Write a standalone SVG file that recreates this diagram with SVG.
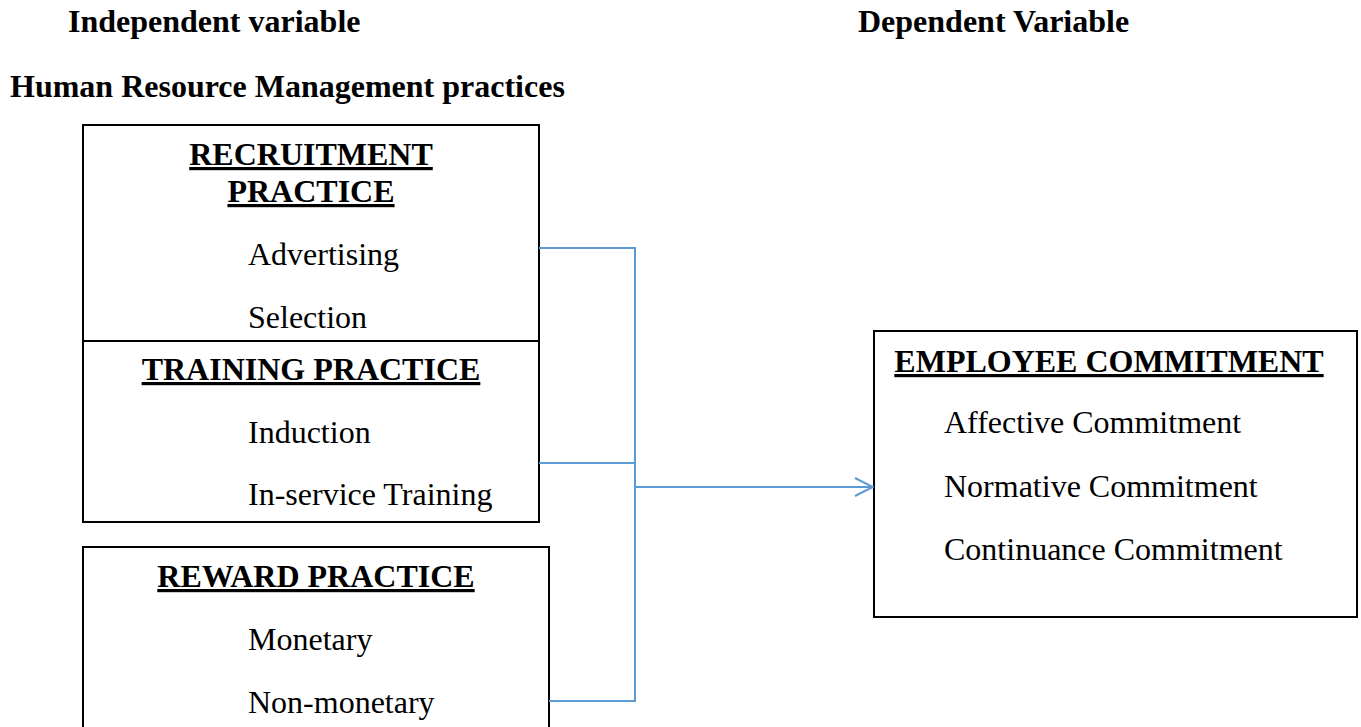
<svg xmlns="http://www.w3.org/2000/svg" width="1361" height="727" viewBox="0 0 1361 727">
  <defs>
    <style>
      .hdr { font-family: "Liberation Serif", "Times New Roman", serif; font-weight: bold; font-size: 32px; fill: #000; }
      .ttl { font-family: "Liberation Serif", "Times New Roman", serif; font-weight: bold; font-size: 32px; fill: #000; text-decoration: underline; text-anchor: middle; }
      .itm { font-family: "Liberation Serif", "Times New Roman", serif; font-size: 32px; fill: #000; }
      .box { fill: #fff; stroke: #000; stroke-width: 2; }
      .con { fill: none; stroke: #5B9BD5; stroke-width: 2; }
    </style>
    <marker id="open-arrow" viewBox="0 0 20 20" refX="19" refY="10" markerWidth="20" markerHeight="20" markerUnits="userSpaceOnUse" orient="auto">
      <path d="M1,1 L19,10 L1,19" fill="none" stroke="#5B9BD5" stroke-width="2"/>
    </marker>
  </defs>

  <rect width="1361" height="727" fill="#fff"/>

  <!-- column headings -->
  <g id="headings">
    <text class="hdr" x="68" y="32">Independent variable</text>
    <text class="hdr" x="858" y="32">Dependent Variable</text>
    <text class="hdr" x="10" y="97">Human Resource Management practices</text>
  </g>

  <!-- recruitment + training share one framed block -->
  <g id="recruitment">
    <rect class="box" x="83" y="125" width="456" height="216"/>
    <text class="ttl" x="311" y="165">RECRUITMENT</text>
    <text class="ttl" x="311" y="202">PRACTICE</text>
    <text class="itm" x="248" y="265">Advertising</text>
    <text class="itm" x="248" y="328">Selection</text>
  </g>

  <g id="training">
    <rect class="box" x="83" y="341" width="456" height="181"/>
    <text class="ttl" x="311" y="380">TRAINING PRACTICE</text>
    <text class="itm" x="248" y="443">Induction</text>
    <text class="itm" x="248" y="505">In-service Training</text>
  </g>

  <g id="reward">
    <rect class="box" x="83" y="547" width="466" height="200"/>
    <text class="ttl" x="316" y="587">REWARD PRACTICE</text>
    <text class="itm" x="248" y="650">Monetary</text>
    <text class="itm" x="248" y="713">Non-monetary</text>
  </g>

  <g id="commitment">
    <rect class="box" x="874" y="331" width="483" height="286"/>
    <text class="ttl" x="1109" y="372">EMPLOYEE COMMITMENT</text>
    <text class="itm" x="944" y="433">Affective Commitment</text>
    <text class="itm" x="944" y="497">Normative Commitment</text>
    <text class="itm" x="944" y="560">Continuance Commitment</text>
  </g>

  <!-- bracket joining the three practices, then one arrow to the outcome -->
  <g id="connectors">
    <path class="con" d="M539,248 H635 V701 H549"/>
    <path class="con" d="M539,463 H635"/>
    <path class="con" d="M635,487 H873" marker-end="url(#open-arrow)"/>
  </g>
</svg>
